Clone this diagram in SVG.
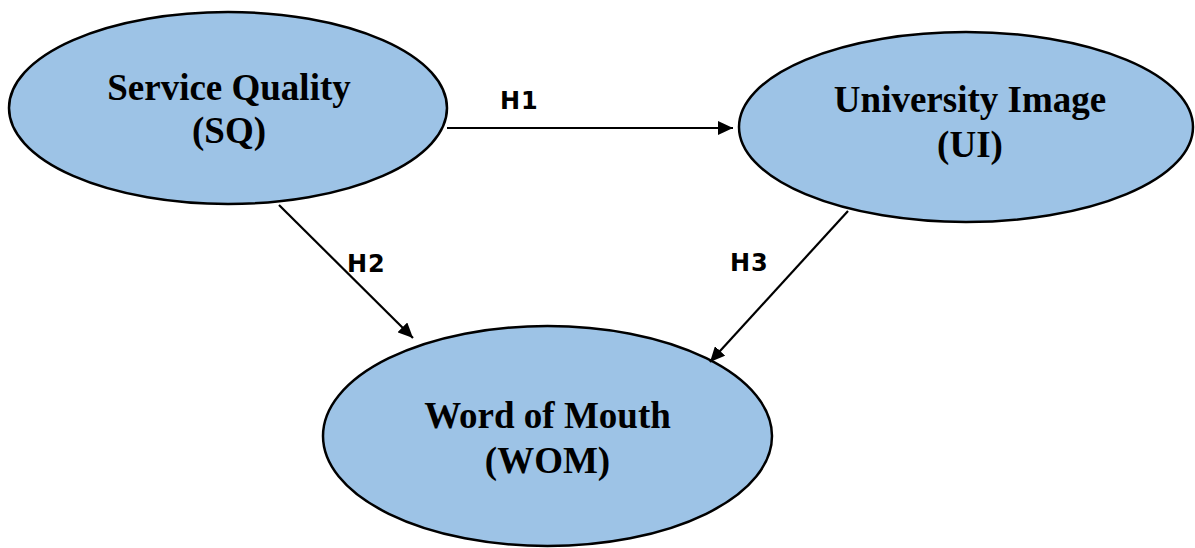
<svg xmlns="http://www.w3.org/2000/svg" width="1195" height="548" viewBox="0 0 1195 548">
  <style>
    .node { fill: #9DC3E6; stroke: #000; stroke-width: 2.5; }
    .lbl { font-family: "Liberation Serif", "Times New Roman", serif; font-weight: bold; font-size: 37px; fill: #000; text-anchor: middle; }
    .hyp { font-family: "DejaVu Sans", Verdana, sans-serif; font-weight: bold; font-size: 24px; fill: #000; letter-spacing: 1px; }
    .conn { stroke: #000; stroke-width: 2.2; fill: none; marker-end: url(#arrow); }
  </style>
  <defs>
    <marker id="arrow" markerUnits="userSpaceOnUse" markerWidth="16" markerHeight="14" refX="15" refY="7" orient="auto">
      <path d="M0,0 L15,7 L0,14 Z" fill="#000"/>
    </marker>
  </defs>
  <rect width="1195" height="548" fill="#fff"/>
  <g id="node-sq">
    <ellipse class="node" cx="228" cy="108" rx="219" ry="96"/>
    <text class="lbl" x="229" y="100">Service Quality</text>
    <text class="lbl" x="229" y="143">(SQ)</text>
  </g>
  <g id="node-ui">
    <ellipse class="node" cx="966" cy="127" rx="227" ry="95"/>
    <text class="lbl" x="970" y="112">University Image</text>
    <text class="lbl" x="970" y="157">(UI)</text>
  </g>
  <g id="node-wom">
    <ellipse class="node" cx="547.5" cy="436" rx="224.5" ry="110"/>
    <text class="lbl" x="547.5" y="428">Word of Mouth</text>
    <text class="lbl" x="547.5" y="473">(WOM)</text>
  </g>
  <g id="connectors">
    <line class="conn" x1="447" y1="128" x2="733" y2="128"/>
    <line class="conn" x1="279" y1="205" x2="413" y2="338"/>
    <line class="conn" x1="848" y1="211" x2="710" y2="362"/>
    <text class="hyp" x="500" y="109">H1</text>
    <text class="hyp" x="347" y="272">H2</text>
    <text class="hyp" x="730" y="271">H3</text>
  </g>
</svg>
